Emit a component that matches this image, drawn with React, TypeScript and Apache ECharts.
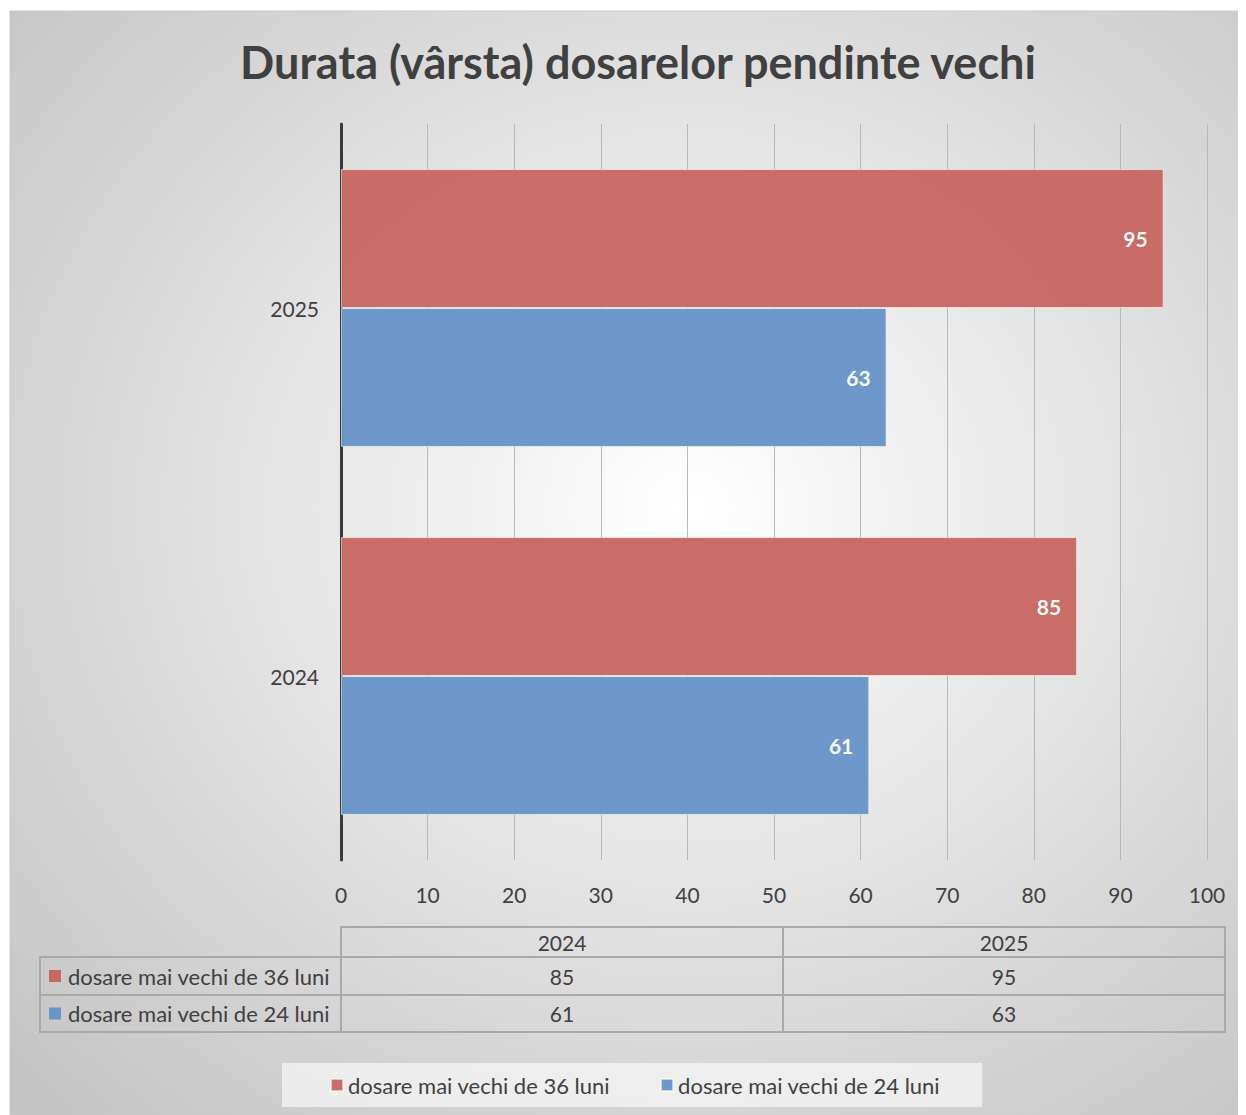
import React, { useEffect, useRef } from "react";
import * as echarts from "echarts";

const titleText = "Durata (vârsta) dosarelor pendinte vechi";
const categories = ["2024", "2025"];
const seriesNames = ["dosare mai vechi de 36 luni", "dosare mai vechi de 24 luni"];
const values36 = [85, 95];
const values24 = [61, 63];
const seriesColors = ["#c86763", "#6995c8"];
const axisMin = 0;
const axisMax = 100;
const axisInterval = 10;

const FONT = "Lato, 'Open Sans', sans-serif";
const TXT = "#404040";

export default function App() {
  const ref = useRef<HTMLDivElement>(null);
  useEffect(() => {
    if (!ref.current) return;
    const chart = echarts.init(ref.current, null, { renderer: "svg" });
    const allValues = [values36, values24];

    const tLeft = 32, tMid = 333, colW = 442;
    const headTop = 919, headH = 30;
    const rowH = [38, 37];
    const border = "#a9a9a9";
    const tableEls: any[] = [];
    categories.forEach((c, i) => {
      const x = tMid + i * colW;
      tableEls.push({ type: "rect", shape: { x, y: headTop, width: colW, height: headH }, style: { fill: "none", stroke: border, lineWidth: 2 } });
      tableEls.push({ type: "text", x: x + colW / 2, y: headTop + headH / 2, style: { text: c, font: `21px ${FONT}`, fill: TXT, align: "center", verticalAlign: "middle" } });
    });
    let y = headTop + headH;
    seriesNames.forEach((name, r) => {
      const h = rowH[r];
      tableEls.push({ type: "rect", shape: { x: tLeft, y, width: tMid - tLeft, height: h }, style: { fill: "none", stroke: border, lineWidth: 2 } });
      tableEls.push({ type: "rect", shape: { x: tLeft + 9, y: y + h / 2 - 6, width: 12, height: 12 }, style: { fill: seriesColors[r] } });
      tableEls.push({ type: "text", x: tLeft + 28, y: y + h / 2, style: { text: name, font: `22px ${FONT}`, fill: TXT, align: "left", verticalAlign: "middle" } });
      categories.forEach((c, i) => {
        const x = tMid + i * colW;
        tableEls.push({ type: "rect", shape: { x, y, width: colW, height: h }, style: { fill: "none", stroke: border, lineWidth: 2 } });
        tableEls.push({ type: "text", x: x + colW / 2, y: y + h / 2, style: { text: String(allValues[r][i]), font: `21px ${FONT}`, fill: TXT, align: "center", verticalAlign: "middle" } });
      });
      y += h;
    });

    const labelStyle = { show: true, position: "insideRight", distance: 16, color: "#fff", fontFamily: FONT, fontWeight: "bold", fontSize: 21 };

    chart.setOption({
      animation: false,
      title: {
        text: titleText,
        left: 625,
        textAlign: "center",
        top: 26,
        textStyle: { fontFamily: FONT, fontSize: 45, fontWeight: "bold", color: TXT },
      },
      legend: {
        data: seriesNames,
        left: 274,
        top: 1055,
        icon: "rect",
        itemWidth: 12,
        itemHeight: 12,
        itemGap: 50,
        padding: [11, 42, 11, 48],
        backgroundColor: "rgba(245,245,245,0.75)",
        textStyle: { fontFamily: FONT, fontSize: 22, color: TXT },
      },
      grid: { left: 333, top: 116, width: 866, height: 736, containLabel: false },
      xAxis: {
        type: "value",
        min: axisMin,
        max: axisMax,
        interval: axisInterval,
        axisLine: { show: false },
        axisTick: { show: false },
        splitLine: { show: true, lineStyle: { color: "#b8b8b8", width: 1 } },
        axisLabel: { margin: 24, fontFamily: FONT, fontSize: 21, color: TXT },
      },
      yAxis: {
        type: "category",
        data: categories,
        axisLine: { show: true, lineStyle: { color: "#3a3a3a", width: 3 } },
        axisTick: { show: false },
        axisLabel: { margin: 22, fontFamily: FONT, fontSize: 21, color: TXT },
      },
      graphic: [
        {
          type: "rect",
          z: -10,
          silent: true,
          shape: { x: 2, y: 3, width: 1236, height: 1104 },
          style: {
            fill: new echarts.graphic.RadialGradient(0.55, 0.45, 0.75, [
              { offset: 0, color: "#ffffff" },
              { offset: 1, color: "#c4c4c4" },
            ]),
            stroke: "#c8c8c8",
            lineWidth: 1,
          },
        },
        ...tableEls,
      ],
      series: [
        {
          name: seriesNames[0],
          type: "bar",
          data: values36,
          barGap: "0%",
          barCategoryGap: "24.5%",
          itemStyle: { color: seriesColors[0], opacity: 0.97, borderColor: "rgba(255,255,255,0.6)", borderWidth: 1 },
          label: labelStyle,
        },
        {
          name: seriesNames[1],
          type: "bar",
          data: values24,
          barGap: "0%",
          barCategoryGap: "24.5%",
          itemStyle: { color: seriesColors[1], opacity: 0.97, borderColor: "rgba(255,255,255,0.6)", borderWidth: 1 },
          label: labelStyle,
        },
      ],
    });
    return () => chart.dispose();
  }, []);
  return <div ref={ref} style={{ width: 1238, height: 1107 }} />;
}
